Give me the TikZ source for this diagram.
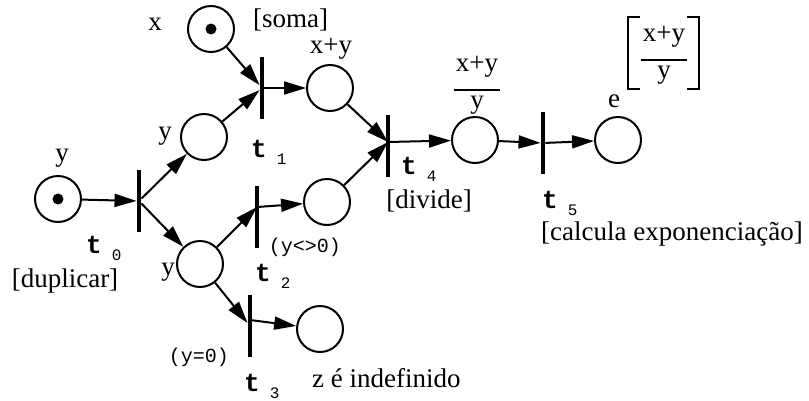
\documentclass[tikz,border=0pt]{standalone}
\usepackage{fontspec}
\setmainfont{Liberation Serif}
\setmonofont{Liberation Mono}
\usetikzlibrary{positioning, calc, arrows.meta}

\newcommand{\tsub}[1]{\textbf{t}\hspace{10pt}\raisebox{-7pt}{\fontsize{16}{16}\selectfont #1}}
\newcommand{\frc}[2]{{\renewcommand{\arraystretch}{0.8}\setlength{\arrayrulewidth}{2pt}%
  \begin{tabular}{@{\kern2pt}c@{\kern2pt}}#1\\[10pt]\hline #2\end{tabular}}}

\begin{document}
\begin{tikzpicture}[x=1pt, y=-1pt, >={Triangle[length=22pt, width=13pt]},
    place/.style={draw, circle, line width=2pt, minimum size=46pt, inner sep=0},
    trans/.style={fill=black, minimum width=4.5pt, minimum height=62pt, inner sep=0},
    token/.style={fill=black, circle, minimum size=11pt, inner sep=0},
    arc/.style={->, line width=2pt},
    lbl/.style={font=\fontsize{27}{32}\selectfont, inner sep=0},
    tlbl/.style={font=\ttfamily\fontsize{26}{26}\selectfont, inner sep=0, anchor=base west},
    cond/.style={font=\ttfamily\fontsize{20}{20}\selectfont, inner sep=0},
    brk/.style={line width=2pt}]
    \useasboundingbox (0,0) rectangle (809,400);

    % Places
    \node[place] (px) at (211,29) {};
    \node[place] (py0) at (58,199) {};
    \node[place] (py1) at (204,137) {};
    \node[place] (py2) at (200,264) {};
    \node[place] (pxy) at (330,88) {};
    \node[place] (pyn) at (327,202) {};
    \node[place] (pz) at (320,329) {};
    \node[place] (pq) at (475,140) {};
    \node[place] (pe) at (618,140) {};

    % Tokens
    \node[token] (kx) at (px) {};
    \node[token] (ky) at (py0) {};

    % Transitions
    \node[trans] (t0) at (139,201) {};
    \node[trans] (t1) at (262,88) {};
    \node[trans] (t2) at (257,217) {};
    \node[trans] (t3) at (250,326) {};
    \node[trans] (t4) at (388,146) {};
    \node[trans] (t5) at (543,143) {};

    % Arcs
    \draw[arc] (py0) -- (t0);
    \draw[arc] (t0) -- (py1);
    \draw[arc] (t0) -- (py2);
    \draw[arc] (px) -- (t1);
    \draw[arc] (py1) -- (t1);
    \draw[arc] (t1) -- (pxy);
    \draw[arc] (py2) -- ([yshift=10pt]t2.center);
    \draw[arc] ([yshift=10pt]t2.center) -- (pyn);
    \draw[arc] (py2) -- (t3);
    \draw[arc] ([yshift=6pt]t3.center) -- (pz);
    \draw[arc] (pxy) -- ([yshift=4pt]t4.center);
    \draw[arc] (pyn) -- ([yshift=4pt]t4.center);
    \draw[arc] ([yshift=4pt]t4.center) -- (pq);
    \draw[arc] (pq) -- (t5);
    \draw[arc] (t5) -- (pe);

    % Transition names
    \node[tlbl] (l0) at (86,253) {\tsub{0}};
    \node[tlbl] (l1) at (251,157) {\tsub{1}};
    \node[tlbl] (l2) at (255,281) {\tsub{2}};
    \node[tlbl] (l3) at (244,391) {\tsub{3}};
    \node[tlbl] (l4) at (401,174) {\tsub{4}};
    \node[tlbl] (l5) at (542,208) {\tsub{5}};

    % Place labels
    \node[lbl] (lx) at (155,24) {x};
    \node[lbl] (ly0) at (62,158) {y};
    \node[lbl] (ly1) at (165,136) {y};
    \node[lbl] (ly2) at (168,272) {y};
    \node[lbl] (lxy) at (331,49) {x+y};
    \node[lbl] (le) at (614,101) {e};
    \node[lbl] (lq) at (477,85) {\frc{x+y}{y}};
    \node[lbl] (lexp) at (664,55) {\frc{x+y}{y}};
    \draw[brk] ($(lexp.center)+(-24,-38)$) -- ++(-12,0) -- ++(0,72) -- ++(12,0);
    \draw[brk] ($(lexp.center)+(23,-38)$) -- ++(12,0) -- ++(0,72) -- ++(-12,0);

    % Actions and guards
    \node[lbl, anchor=west] (dsoma) at (253,20) {[soma]};
    \node[lbl] (ddup) at (65,281) {[duplicar]};
    \node[lbl] (ddiv) at (429,201) {[divide]};
    \node[lbl] (dexp) at (672,234) {[calcula exponenciação]};
    \node[lbl, anchor=base west] (dz) at (312,387) {z é indefinido};
    \node[cond] (cne) at (305,247) {(y<>0)};
    \node[cond] (ceq) at (199,357) {(y=0)};
\end{tikzpicture}
\end{document}
